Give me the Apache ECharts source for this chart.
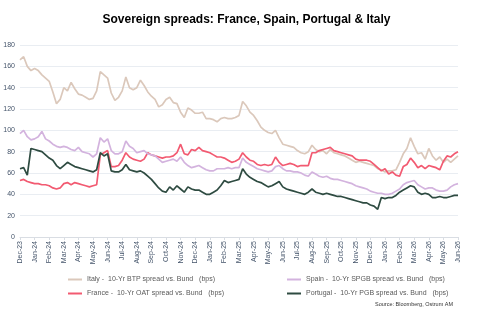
<!DOCTYPE html>
<html>
<head>
<meta charset="utf-8">
<script src="https://cdn.jsdelivr.net/npm/echarts@6/dist/echarts.min.js"></script>
<style>
  html, body { margin: 0; padding: 0; background: #fff; }
  #chart { width: 493px; height: 323px; }
</style>
</head>
<body>
<div id="chart"></div>
<script>
// month tick labels, one per axis unit
const monthLabels = [
  "Dec-23", "Jan-24", "Feb-24", "Mar-24", "Apr-24", "May-24", "Jun-24", "Jul-24",
  "Aug-24", "Sep-24", "Oct-24", "Nov-24", "Dec-24", "Jan-25", "Feb-25", "Mar-25",
  "Apr-25", "May-25", "Jun-25", "Jul-25", "Aug-25", "Sep-25", "Oct-25", "Nov-25",
  "Dec-25", "Jan-26", "Feb-26", "Mar-26", "Apr-26", "May-26", "Jun-26",
];

// readings every quarter month, in bps
const STEP = 0.25;

const italy = [
  166, 169, 160, 156, 158, 156, 152, 149, 146, 136, 125, 129, 140, 137, 145, 139,
  134, 133, 131, 129, 130, 137, 155, 152, 149, 135, 128, 131, 137, 150, 140, 138,
  140, 147, 142, 136, 132, 129, 122, 124, 129, 131, 126, 125, 117, 112, 121, 119,
  116, 116, 117, 111, 111, 110, 108, 111, 112, 111, 111, 112, 114, 127, 123, 117,
  114, 109, 103, 100, 98, 97, 100, 93, 87, 86, 85, 84, 81, 79, 78, 80,
  86, 82, 80, 81, 78, 82, 79, 78, 77, 76, 74, 72, 70, 71, 70, 69,
  68, 67, 64, 63, 61, 62, 62, 63, 70, 78, 83, 93, 85, 78, 79, 73,
  83, 76, 72, 75, 70, 73, 70, 73, 76,
];

const france = [
  53, 54, 52, 51, 50, 50, 49, 49, 48, 46, 45, 46, 50, 51, 49, 51,
  50, 49, 48, 47, 48, 49, 77, 79, 81, 66, 66, 67, 72, 79, 75, 73,
  72, 71, 73, 79, 77, 76, 75, 74, 75, 75, 76, 79, 87, 78, 77, 82,
  81, 84, 81, 80, 79, 77, 75, 75, 74, 72, 70, 71, 73, 79, 75, 72,
  71, 68, 67, 68, 67, 68, 75, 70, 67, 68, 69, 68, 66, 67, 67, 67,
  79, 79, 81, 82, 83, 84, 81, 80, 79, 78, 77, 76, 73, 72, 72, 72,
  71, 68, 65, 62, 64, 59, 61, 58, 57, 66, 68, 74, 70, 65, 67, 64,
  67, 66, 65, 63, 71, 76, 75, 78, 80,
];

const spain = [
  97, 100, 94, 91, 92, 94, 99, 92, 90, 87, 85, 84, 85, 84, 82, 81,
  84, 80, 79, 78, 75, 78, 93, 89, 92, 81, 78, 78, 80, 90, 85, 83,
  79, 80, 81, 78, 77, 76, 73, 70, 71, 72, 73, 71, 75, 70, 67, 65,
  66, 67, 65, 63, 62, 62, 64, 64, 64, 65, 64, 65, 65, 74, 70, 68,
  66, 64, 63, 62, 61, 62, 66, 67, 64, 62, 62, 61, 61, 60, 58, 57,
  61, 59, 57, 56, 57, 55, 54, 54, 53, 52, 51, 50, 48, 47, 46, 45,
  43, 42, 41, 41, 40, 40, 41, 43, 45, 49, 51, 52, 53, 49, 47, 45,
  46, 46, 44, 43, 43, 44, 47, 49, 50,
];

const portugal = [
  64, 65, 58, 83, 82, 81, 80, 77, 74, 72, 67, 64, 67, 70, 68, 66,
  65, 64, 63, 62, 61, 63, 79, 76, 78, 62, 61, 61, 63, 68, 63, 62,
  61, 62, 60, 57, 54, 50, 46, 43, 42, 47, 44, 48, 45, 42, 47, 45,
  44, 44, 42, 40, 40, 42, 44, 48, 53, 51, 52, 53, 54, 64, 59, 56,
  54, 52, 51, 49, 47, 48, 50, 52, 47, 45, 44, 43, 42, 41, 40, 42,
  45, 42, 41, 40, 41, 40, 39, 38, 38, 37, 36, 35, 34, 33, 32, 32,
  30, 29, 26, 37, 36, 37, 37, 39, 42, 44, 46, 48, 47, 42, 40, 41,
  40, 37, 37, 38, 37, 37, 38, 39, 39,
];

const seriesNames = [
  "Italy -  10-Yr BTP spread vs. Bund   (bps)",
  "France -  10-Yr OAT spread vs. Bund   (bps)",
  "Spain -  10-Yr SPGB spread vs. Bund   (bps)",
  "Portugal -  10-Yr PGB spread vs. Bund   (bps)",
];
const seriesColors = ["#dbc8bb", "#f25a71", "#d3b3de", "#2e4b41"];
const seriesData = [italy, france, spain, portugal];

const FONT = "Liberation Sans";

function toPoints(values) {
  return values.map((v, i) => [i * STEP, v]);
}

const chart = echarts.init(document.getElementById("chart"));

const legendText = { color: "#595959", fontSize: 7, fontFamily: FONT };

chart.setOption({
  animation: false,
  backgroundColor: "#fff",
  title: {
    text: "Sovereign spreads: France, Spain, Portugal & Italy",
    left: "center",
    top: 9,
    textStyle: { fontSize: 12, fontWeight: "bold", color: "#000", fontFamily: FONT },
  },
  grid: { left: 20, right: 35, top: 45, bottom: 86 },
  legend: [
    {
      left: 63, top: 271, orient: "vertical", itemGap: 7,
      itemWidth: 14, itemHeight: 2, icon: "rect",
      data: [seriesNames[0], seriesNames[1]],
      textStyle: legendText,
    },
    {
      left: 282, top: 271, orient: "vertical", itemGap: 7,
      itemWidth: 14, itemHeight: 2, icon: "rect",
      data: [seriesNames[2], seriesNames[3]],
      textStyle: legendText,
    },
  ],
  graphic: [
    {
      type: "text",
      right: 40,
      top: 301,
      style: { text: "Source: Bloomberg, Ostrum AM", fontSize: 5.5, fill: "#333", fontFamily: FONT },
    },
  ],
  xAxis: {
    type: "value",
    min: 0,
    max: monthLabels.length - 1,
    interval: 1,
    splitLine: { show: false },
    axisLine: { lineStyle: { color: "#d9dde3" } },
    axisTick: { show: true, length: 3, lineStyle: { color: "#d9dde3" } },
    axisLabel: {
      rotate: 90,
      fontSize: 7,
      color: "#44546a",
      fontFamily: FONT,
      margin: 4,
      formatter: (v) => monthLabels[Math.round(v)] || "",
    },
  },
  yAxis: {
    type: "value",
    min: 0,
    max: 180,
    interval: 20,
    axisLine: { show: false },
    axisTick: { show: false },
    axisLabel: { fontSize: 7, color: "#44546a", fontFamily: FONT, margin: 5 },
    splitLine: { lineStyle: { color: "#e9edf2", width: 1 } },
  },
  series: seriesData.map((values, i) => ({
    name: seriesNames[i],
    type: "line",
    data: toPoints(values),
    showSymbol: false,
    symbol: "none",
    color: seriesColors[i],
    lineStyle: { width: 1.7, color: seriesColors[i] },
    z: i === 3 ? 5 : 2 + i,
  })),
});
</script>
</body>
</html>
